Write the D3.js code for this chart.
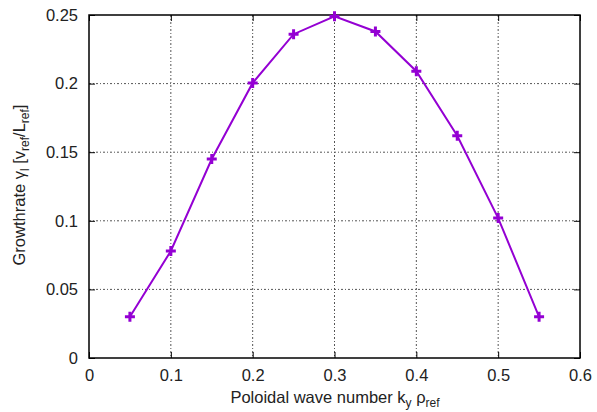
<!DOCTYPE html>
<html><head><meta charset="utf-8">
<script src="https://cdn.jsdelivr.net/npm/d3@7"></script>
<style>body{margin:0;background:#fff}svg{display:block}text{font-family:"Liberation Sans",Arial,sans-serif;fill:#222}</style>
</head><body><svg id="c" width="597" height="412"></svg>
<script>
const kyValues = [0.05,0.1,0.15,0.2,0.25,0.3,0.35,0.4,0.45,0.5,0.55];
const growthValues = [0.030,0.078,0.145,0.2005,0.236,0.249,0.238,0.209,0.162,0.102,0.030];
const xTicks = [0,0.1,0.2,0.3,0.4,0.5,0.6];
const yTicks = [0,0.05,0.1,0.15,0.2,0.25];
const xTickLabels = ["0","0.1","0.2","0.3","0.4","0.5","0.6"];
const yTickLabels = ["0","0.05","0.1","0.15","0.2","0.25"];

const svg = d3.select("#c");
const m = {l:89, r:580, t:15, b:358};
const x = d3.scaleLinear().domain([0,0.6]).range([m.l,m.r]);
const y = d3.scaleLinear().domain([0,0.25]).range([m.b,m.t]);
const FS = 16.5;

// grid
const g = svg.append("g");
g.selectAll("line.gx").data(xTicks.slice(1,-1)).join("line")
 .attr("x1",d=>x(d)).attr("x2",d=>x(d)).attr("y1",m.t).attr("y2",m.b)
 .attr("stroke","#555").attr("stroke-width",1).attr("stroke-dasharray","2,2,1,2");
g.selectAll("line.gy").data(yTicks.slice(1,-1)).join("line")
 .attr("y1",d=>y(d)).attr("y2",d=>y(d)).attr("x1",m.l).attr("x2",m.r)
 .attr("stroke","#555").attr("stroke-width",1).attr("stroke-dasharray","2,2,1,2");

// axes
const xa = svg.append("g").attr("transform",`translate(0,${m.b})`)
 .call(d3.axisBottom(x).tickValues(xTicks).tickFormat((d,i)=>xTickLabels[i]).tickSize(-6).tickPadding(11));
const ya = svg.append("g").attr("transform",`translate(${m.l},0)`)
 .call(d3.axisLeft(y).tickValues(yTicks).tickFormat((d,i)=>yTickLabels[i]).tickSize(-6).tickPadding(11));
[xa,ya].forEach(a=>{a.select(".domain").remove();a.selectAll("text").attr("font-size",FS).style("font-family","Liberation Sans, Arial, sans-serif").attr("fill","#222");a.selectAll("line").attr("stroke","#000");});
// top/right mirror ticks
svg.append("g").attr("transform",`translate(0,${m.t})`).call(d3.axisTop(x).tickValues(xTicks).tickSize(-6).tickFormat("")).call(a=>a.select(".domain").remove());
svg.append("g").attr("transform",`translate(${m.r},0)`).call(d3.axisRight(y).tickValues(yTicks).tickSize(-6).tickFormat("")).call(a=>a.select(".domain").remove());

svg.append("rect").attr("x",m.l).attr("y",m.t).attr("width",m.r-m.l).attr("height",m.b-m.t)
 .attr("fill","none").attr("stroke","#000").attr("stroke-width",1.5);

// line
const data = kyValues.map((k,i)=>[k,growthValues[i]]);
svg.append("path").datum(data).attr("fill","none").attr("stroke","#9400d3").attr("stroke-width",2)
 .attr("d",d3.line().x(d=>x(d[0])).y(d=>y(d[1])));
svg.selectAll("path.pt").data(data).join("path").attr("class","pt")
 .attr("d",d=>`M${x(d[0])-5},${y(d[1])}h10M${x(d[0])},${y(d[1])-5}v10`)
 .attr("stroke","#9400d3").attr("stroke-width",3);

// labels
const SS = 12;
const xl = svg.append("text").attr("x",335).attr("y",403).attr("text-anchor","middle").attr("font-size",FS);
xl.append("tspan").text("Poloidal wave number k");
xl.append("tspan").attr("font-size",SS).attr("dy",4).text("y");
xl.append("tspan").attr("dy",-4).text(" ρ");
xl.append("tspan").attr("font-size",SS).attr("dy",4).text("ref");

const yl = svg.append("text").attr("transform","translate(25,185) rotate(-90)").attr("text-anchor","middle").attr("font-size",FS);
yl.append("tspan").text("Growthrate γ");
yl.append("tspan").attr("font-size",SS).attr("dy",4).text("l");
yl.append("tspan").attr("dy",-4).text(" [v");
yl.append("tspan").attr("font-size",SS).attr("dy",4).text("ref");
yl.append("tspan").attr("dy",-4).text("/L");
yl.append("tspan").attr("font-size",SS).attr("dy",4).text("ref");
yl.append("tspan").attr("dy",-4).text("]");
</script></body></html>
